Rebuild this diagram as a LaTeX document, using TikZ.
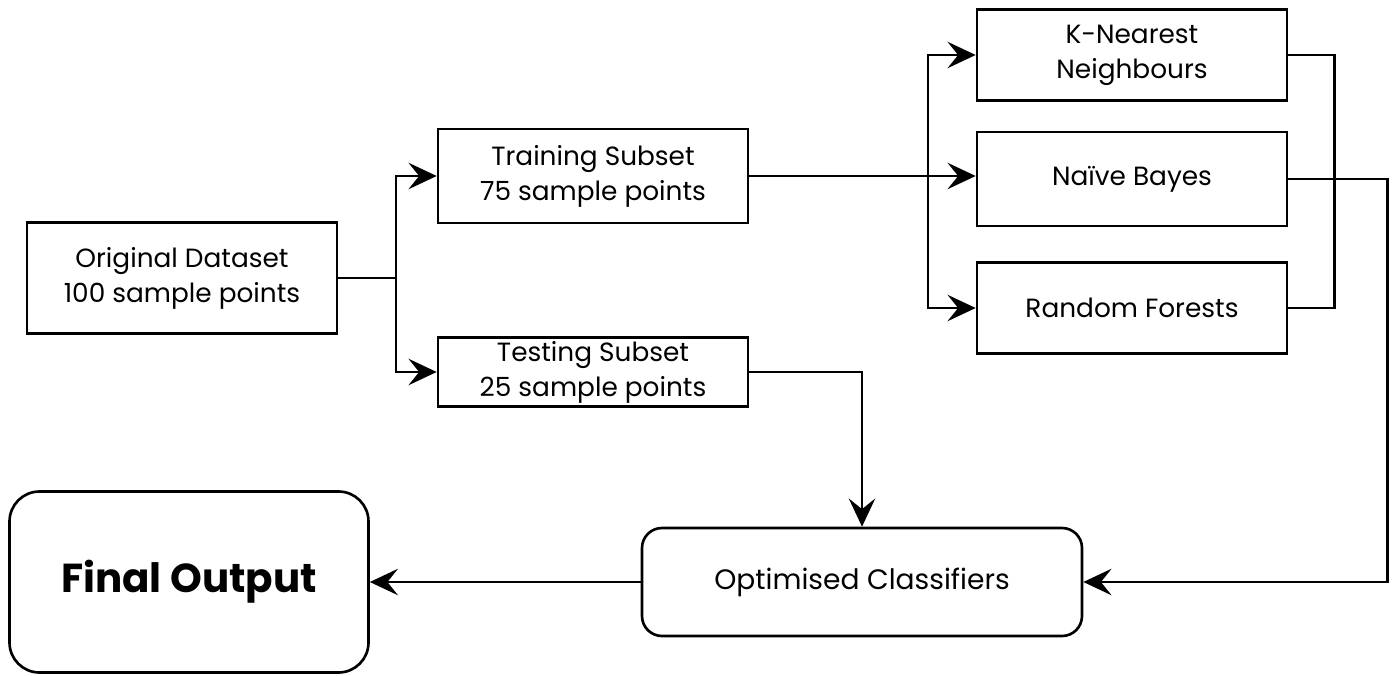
\documentclass[tikz,border=0pt]{standalone}
\usepackage{fontspec}
\setmainfont{Poppins}
\usetikzlibrary{arrows.meta}
\begin{document}
\begin{tikzpicture}[
    box/.style={draw, line width=1.5pt, minimum width=6.2cm, align=center, inner sep=0pt, font=\fontsize{15}{20}\selectfont},
    rbox/.style={box, rounded corners=0.4cm},
    link/.style={line width=1.5pt},
    arr/.style={link, -{Stealth[length=16pt, width=15pt, inset=6pt]}},
  ]
    \useasboundingbox (0,0) rectangle (27.92,13.5);

    % data and its split
    \node[box, minimum height=2.22cm] (orig) at (3.64, 7.94) {Original Dataset\\100 sample points};
    \node[box, minimum height=1.88cm] (trn) at (11.86, 9.98) {Training Subset\\75 sample points};
    \node[box, minimum height=1.38cm] (tst) at (11.86, 6.06) {Testing Subset\\25 sample points};
    \coordinate (split) at (7.92, 7.94);
    \draw[link] (orig.east) -- (split);
    \draw[arr] (split) |- (trn.west);
    \draw[arr] (split) |- (tst.west);

    % classifiers
    \node[box, minimum height=1.82cm] (knn) at (22.64, 12.4) {K-Nearest\\Neighbours};
    \node[box, minimum height=1.88cm] (nb) at (22.64, 9.92) {Naïve Bayes};
    \node[box, minimum height=1.82cm] (rf) at (22.64, 7.34) {Random Forests};
    \coordinate (fan) at (18.56, 9.95);
    \draw[arr] (trn.east) -- (trn.east -| nb.west);
    \draw[arr] (fan) |- (knn.west);
    \draw[arr] (fan) |- (rf.west);
    \draw[link] (knn.east) -- ++(0.92,0) |- (rf.east);

    % result
    \node[rbox, minimum width=8.8cm, minimum height=2.16cm, font=\fontsize{16}{20}\selectfont] (opt) at (17.24, 1.86) {Optimised Classifiers};
    \node[box, rounded corners=0.6cm, minimum width=7.18cm, minimum height=3.62cm, font=\fontsize{23}{28}\selectfont\bfseries] (fin) at (3.78, 1.86) {Final Output};
    \draw[arr] (nb.east) -- ++(1.98,0) |- (opt.east);
    \draw[arr] (tst.east) -| (opt.north);
    \draw[arr] (opt.west) -- (fin.east);
  \end{tikzpicture}
\end{document}
